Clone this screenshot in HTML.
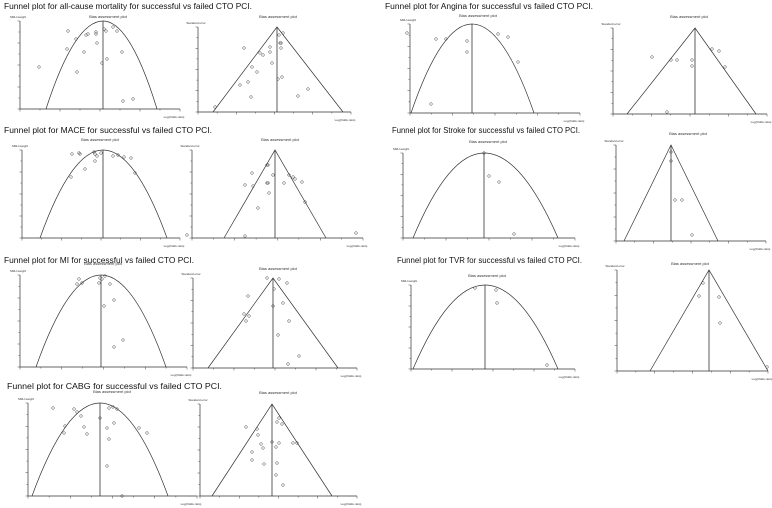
<!DOCTYPE html>
<html><head><meta charset="utf-8"><style>
html,body{margin:0;padding:0;background:#fff;}
svg{display:block;font-family:"Liberation Sans",Arial,sans-serif;}
</style></head><body>
<svg id="s" width="772" height="508" viewBox="0 0 772 508" xmlns="http://www.w3.org/2000/svg">
<g fill="#111" font-size="8.6">
<text x="4" y="9" textLength="248" lengthAdjust="spacingAndGlyphs">Funnel plot for all-cause mortality for successful vs failed CTO PCI.</text>
<text x="385" y="9" textLength="208" lengthAdjust="spacingAndGlyphs">Funnel plot for Angina for successful vs failed CTO PCI.</text>
<text x="4" y="133" textLength="208" lengthAdjust="spacingAndGlyphs">Funnel plot for MACE  for successful vs failed CTO PCI.</text>
<text x="392" y="133" textLength="188" lengthAdjust="spacingAndGlyphs">Funnel plot for Stroke for successful vs failed CTO PCI.</text>
<text x="4" y="263" textLength="190" lengthAdjust="spacingAndGlyphs">Funnel plot for MI for successful vs failed CTO PCI.</text>
<text x="397" y="263" textLength="185" lengthAdjust="spacingAndGlyphs">Funnel plot for TVR for successful vs failed CTO PCI.</text>
<text x="7" y="389" textLength="215" lengthAdjust="spacingAndGlyphs">Funnel plot for CABG for successful vs failed CTO PCI.</text>
</g>
<g id="g"></g>
</svg>
<script>
var P=[
{t:'L',L:20,T:21,B:109,R:180,x0:46,xp:103,x1:157,tx:108,ty:18,pts:[[39,67],[68,31],[67,49],[77,72],[76,39],[84,52],[86,35],[88,34],[97,43],[96,32],[96,34],[102,63],[104,29],[106,31],[107,59],[113,27],[117,31],[122,52],[123,101],[133,99]]},
{t:'F',L:198,T:27,B:112,R:351,ax:277,x0:213,x1:343,tx:278,ty:18,pts:[[244,48],[240,85],[251,97],[252,67],[257,72],[260,53],[263,55],[270,52],[270,47],[272,63],[278,79],[279,35],[280,43],[281,43],[281,48],[283,33],[282,77],[298,96],[308,89],[215,107],[248,82]]},
{t:'L',L:410,T:24,B:113,R:580,x0:411,xp:472,x1:534,tx:478,ty:17,pts:[[407,33],[436,39],[446,39],[467,41],[467,52],[498,34],[508,37],[518,62],[431,104]]},
{t:'F',L:613,T:28,B:114,R:767,ax:695,x0:627,x1:756,tx:689,ty:18,pts:[[652,57],[671,60],[677,60],[692,60],[692,66],[712,49],[719,51],[725,67],[667,112]]},
{t:'L',L:22,T:150,B:238,R:180,x0:40,xp:103,x1:167,tx:100,ty:141,pts:[[72,154],[79,153],[80,154],[71,177],[85,169],[94,152],[97,156],[95,161],[101,153],[113,156],[118,155],[124,157],[131,158],[135,173],[187,235],[95,154]]},
{t:'F',L:192,T:150,B:238,R:363,ax:275,x0:224,x1:326,tx:280,ty:141,pts:[[252,173],[245,185],[253,186],[267,165],[268,165],[273,175],[267,183],[268,183],[269,193],[258,208],[284,183],[289,175],[293,177],[295,179],[302,182],[305,202],[245,236],[356,233]]},
{t:'L',L:403,T:153,B:238,R:575,x0:413,xp:484,x1:558,tx:488,ty:143,pts:[[484,153],[489,176],[499,182],[514,234]]},
{t:'F',L:616,T:145,B:241,R:766,ax:671,x0:624,x1:718,tx:688,ty:135,pts:[[671,152],[671,161],[675,200],[682,200],[692,235]]},
{t:'L',L:20,T:275,B:367,R:187,x0:36,xp:101,x1:166,tx:103,ty:265,pts:[[79,279],[82,283],[77,284],[100,278],[102,279],[99,283],[105,276],[110,284],[114,300],[104,306],[123,340],[114,347]]},
{t:'F',L:193,T:278,B:368,R:357,ax:273,x0:208,x1:338,tx:278,ty:270,pts:[[267,278],[279,279],[287,283],[248,296],[274,289],[273,306],[283,303],[244,314],[249,316],[246,321],[289,321],[278,335],[299,356],[288,364]]},
{t:'L',L:411,T:285,B:369,R:575,x0:413,xp:485,x1:558,tx:487,ty:277,pts:[[475,288],[496,290],[497,303],[547,365]]},
{t:'F',L:617,T:270,B:371,R:768,ax:709,x0:650,x1:768,tx:690,ty:265,pts:[[703,283],[699,296],[719,297],[720,323],[767,367]]},
{t:'L',L:28,T:403,B:496,R:197,x0:32,xp:100,x1:168,tx:112,ty:393,pts:[[53,408],[74,409],[77,412],[81,416],[65,426],[64,433],[84,427],[87,434],[100,418],[109,408],[113,407],[117,409],[114,423],[107,428],[109,439],[139,428],[147,433],[107,466],[122,496]]},
{t:'F',L:200,T:404,B:496,R:357,ax:272,x0:212,x1:332,tx:278,ty:394,pts:[[246,427],[257,429],[258,435],[261,444],[263,448],[252,452],[252,460],[264,464],[272,442],[276,447],[277,422],[279,418],[282,424],[279,443],[293,443],[297,443],[277,463],[276,475],[283,485]]}
];
var h='';
P.forEach(function(p){
 var st='stroke="#333" stroke-width="0.7" fill="none"';
 h+='<path d="M'+p.L+' '+p.T+'V'+p.B+'H'+p.R+'" '+st+'/>';
 for(var i=0;i<=8;i++){var y=p.T+(p.B-p.T)*i/8;h+='<line x1="'+(p.L-(i%2?1.5:2.5))+'" y1="'+y+'" x2="'+p.L+'" y2="'+y+'" stroke="#444" stroke-width="0.5"/>';}
 for(var i=0;i<=8;i++){var x=p.L+(p.R-p.L)*i/8;h+='<line x1="'+x+'" y1="'+p.B+'" x2="'+x+'" y2="'+(p.B+(i%2?1.5:2.5))+'" stroke="#444" stroke-width="0.5"/>';}
 h+='<text x="'+p.tx+'" y="'+p.ty+'" font-size="4" text-anchor="middle" fill="#333">Bias assessment plot</text>';
 h+='<text x="'+(p.L-2)+'" y="'+(p.T-3)+'" font-size="3" text-anchor="middle" fill="#333">'+(p.t=='L'?'SMH weight':'Standard error')+'</text>';
 h+='<text x="'+(p.R-6)+'" y="'+(p.B+9)+'" font-size="3" text-anchor="middle" fill="#333">Log(Odds ratio)</text>';
 if(p.t=='L'){
  h+='<path d="M'+p.x0+' '+p.B+'Q'+((p.x0+p.xp)/2)+' '+p.T+' '+p.xp+' '+p.T+'Q'+((p.x1+p.xp)/2)+' '+p.T+' '+p.x1+' '+p.B+'" '+st+'/>';
  h+='<line x1="'+p.xp+'" y1="'+p.T+'" x2="'+p.xp+'" y2="'+p.B+'" stroke="#333" stroke-width="0.8"/>';
 } else {
  h+='<path d="M'+p.x0+' '+p.B+'L'+p.ax+' '+p.T+'L'+p.x1+' '+p.B+'" '+st+'/>';
  h+='<line x1="'+p.ax+'" y1="'+p.T+'" x2="'+p.ax+'" y2="'+p.B+'" stroke="#333" stroke-width="0.8"/>';
 }
 p.pts.forEach(function(q){h+='<circle cx="'+q[0]+'" cy="'+q[1]+'" r="1.3" fill="none" stroke="#444" stroke-width="0.5"/>';});
});
document.getElementById('g').innerHTML=h;
</script>
</body></html>
